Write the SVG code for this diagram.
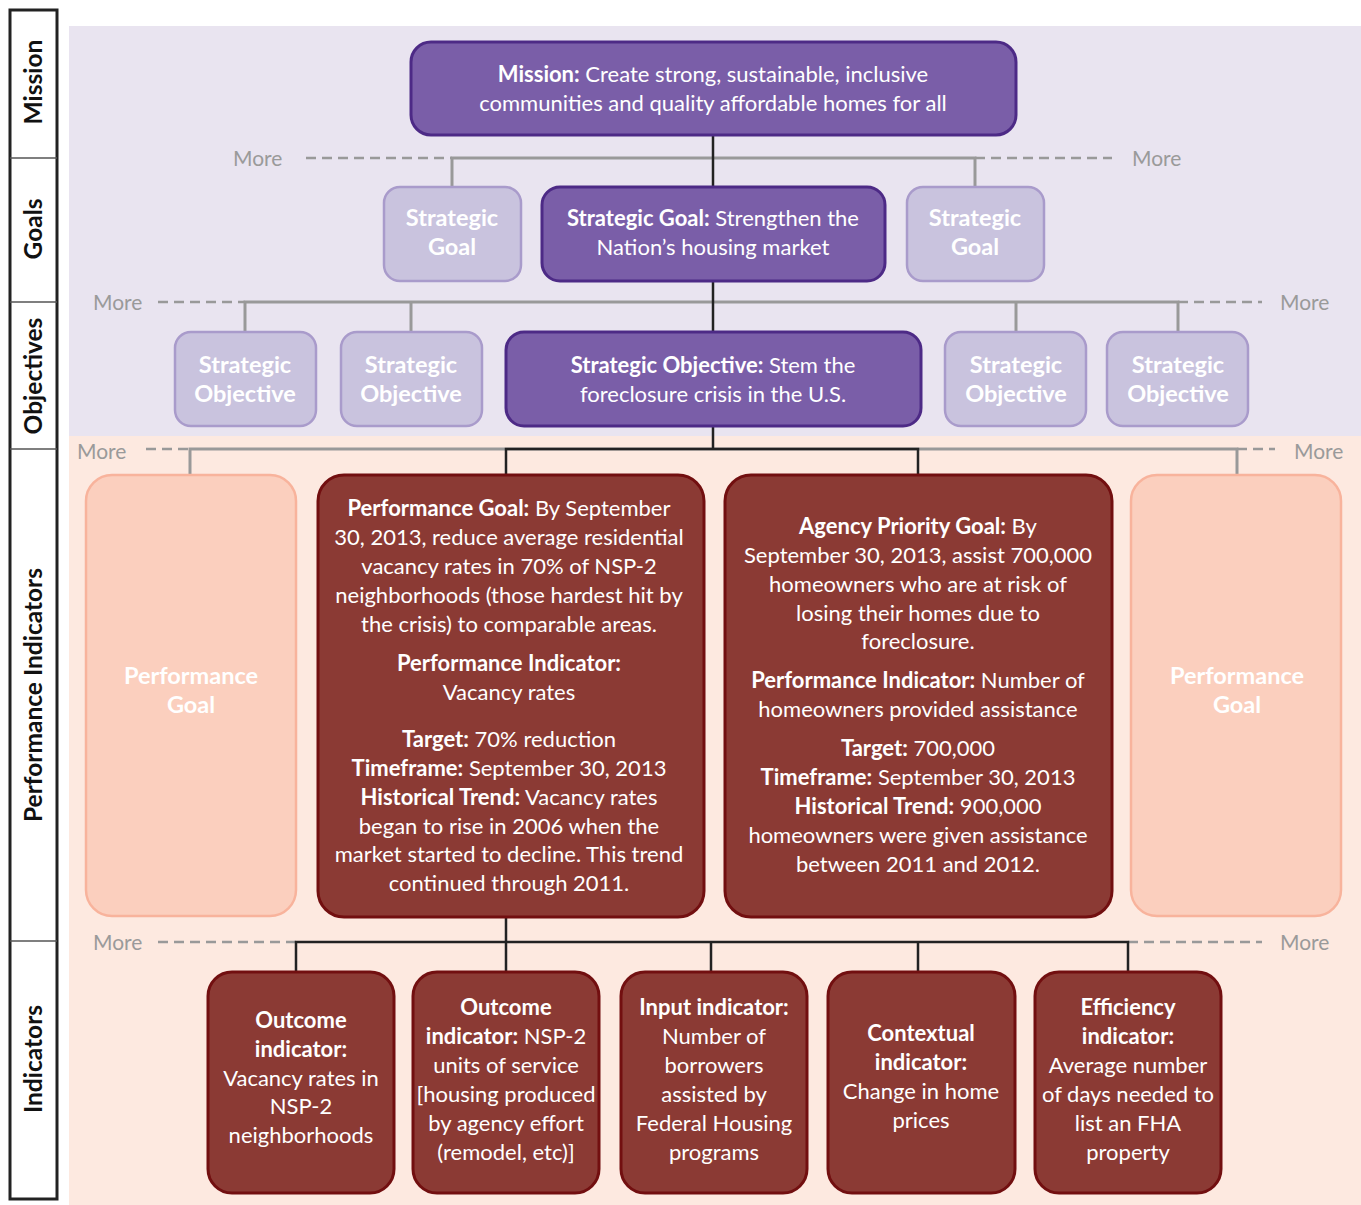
<svg xmlns="http://www.w3.org/2000/svg" width="1361" height="1205" viewBox="0 0 1361 1205">
  <style>
    text { font-family: Lato, "Liberation Sans", sans-serif; }
    .band { font-size: 24.5px; font-weight: bold; fill: #111; text-anchor: middle; }
    .more { font-size: 21px; fill: #9a9a9a; }
    .t { font-size: 22px; fill: #fff; text-anchor: middle; }
    .t.lg { font-size: 23.5px; }
    .b { font-weight: bold; }
    .dark { fill: #7a5ea8; stroke: #4d2a86; stroke-width: 3; }
    .light { fill: #c9c3de; stroke: #a99bcb; stroke-width: 2.5; }
    .red { fill: #8b3a34; stroke: #720f10; stroke-width: 3; }
    .peach { fill: #fbcfbe; stroke: #f8b39c; stroke-width: 2.5; }
    .gray { stroke: #999; stroke-width: 3; fill: none; }
    .blk { stroke: #222; stroke-width: 2.5; fill: none; }
    .dash { stroke: #999; stroke-width: 2.5; stroke-dasharray: 10 6; fill: none; }
  </style>

  <!-- background bands -->
  <rect x="69" y="26" width="1292" height="410" fill="#e9e4f0"/>
  <rect x="69" y="436" width="1292" height="769" fill="#fde9e0"/>

  <!-- level labels -->
  <g id="sidebar">
    <rect x="10" y="10" width="47" height="1189" fill="#fff" stroke="#222" stroke-width="3"/>
    <g stroke="#555" stroke-width="1.5">
      <line x1="10" y1="158" x2="57" y2="158"/>
      <line x1="10" y1="302" x2="57" y2="302"/>
      <line x1="10" y1="449" x2="57" y2="449"/>
      <line x1="10" y1="941" x2="57" y2="941"/>
    </g>
    <text class="band" transform="translate(42 82) rotate(-90)">Mission</text>
    <text class="band" transform="translate(42 229) rotate(-90)">Goals</text>
    <text class="band" transform="translate(42 376) rotate(-90)">Objectives</text>
    <text class="band" transform="translate(42 695) rotate(-90)">Performance Indicators</text>
    <text class="band" transform="translate(42 1059) rotate(-90)">Indicators</text>
  </g>

  <!-- connectors -->
  <g id="connectors">
    <!-- goals level -->
    <path class="dash" d="M306 158 H452 M975 158 H1112"/>
    <path class="gray" d="M452 187 V158 H975 V187"/>
    <path class="blk" d="M713 135 V187"/>
    <!-- objectives level -->
    <path class="dash" d="M158 302 H245 M1178 302 H1262"/>
    <path class="gray" d="M245 332 V302 H1178 V332 M411 302 V332 M1016 302 V332"/>
    <path class="blk" d="M713 281 V332"/>
    <!-- performance goal level -->
    <path class="dash" d="M146 449 H190 M1237 449 H1275"/>
    <path class="gray" d="M190 475 V449 H1237 V475"/>
    <path class="blk" d="M713 426 V449 M506 475 V449 H918 V475"/>
    <!-- indicator level -->
    <path class="dash" d="M158 942 H296 M1128 942 H1262"/>
    <path class="blk" d="M506 917 V942 M296 972 V942 H1128 V972 M506 942 V972 M711 942 V972 M918 942 V972"/>
    <text class="more" x="233" y="166">More</text>
    <text class="more" x="1132" y="166">More</text>
    <text class="more" x="93" y="310">More</text>
    <text class="more" x="1280" y="310">More</text>
    <text class="more" x="77" y="459">More</text>
    <text class="more" x="1294" y="459">More</text>
    <text class="more" x="93" y="950">More</text>
    <text class="more" x="1280" y="950">More</text>
  </g>

  <!-- mission -->
  <g id="mission">
    <rect class="dark" x="411" y="42" width="605" height="93" rx="20"/>
    <text class="t" x="713" y="82"><tspan class="b">Mission:</tspan> Create strong, sustainable, inclusive</text>
    <text class="t" x="713" y="111">communities and quality affordable homes for all</text>
  </g>

  <!-- strategic goals -->
  <g id="goal-left">
    <rect class="light" x="384" y="187" width="137" height="94" rx="16"/>
    <text class="t lg b" x="452" y="226">Strategic</text>
    <text class="t lg b" x="452" y="255">Goal</text>
  </g>
  <g id="goal-main">
    <rect class="dark" x="542" y="187" width="343" height="94" rx="18"/>
    <text class="t" x="713" y="226"><tspan class="b">Strategic Goal:</tspan> Strengthen the</text>
    <text class="t" x="713" y="255">Nation’s housing market</text>
  </g>
  <g id="goal-right">
    <rect class="light" x="907" y="187" width="137" height="94" rx="16"/>
    <text class="t lg b" x="975" y="226">Strategic</text>
    <text class="t lg b" x="975" y="255">Goal</text>
  </g>

  <!-- strategic objectives -->
  <g id="objective-1">
    <rect class="light" x="175" y="332" width="141" height="94" rx="16"/>
    <text class="t lg b" x="245" y="373">Strategic</text>
    <text class="t lg b" x="245" y="402">Objective</text>
  </g>
  <g id="objective-2">
    <rect class="light" x="341" y="332" width="141" height="94" rx="16"/>
    <text class="t lg b" x="411" y="373">Strategic</text>
    <text class="t lg b" x="411" y="402">Objective</text>
  </g>
  <g id="objective-main">
    <rect class="dark" x="506" y="332" width="415" height="94" rx="18"/>
    <text class="t" x="713" y="373"><tspan class="b">Strategic Objective:</tspan> Stem the</text>
    <text class="t" x="713" y="402">foreclosure crisis in the U.S.</text>
  </g>
  <g id="objective-4">
    <rect class="light" x="945" y="332" width="141" height="94" rx="16"/>
    <text class="t lg b" x="1016" y="373">Strategic</text>
    <text class="t lg b" x="1016" y="402">Objective</text>
  </g>
  <g id="objective-5">
    <rect class="light" x="1107" y="332" width="141" height="94" rx="16"/>
    <text class="t lg b" x="1178" y="373">Strategic</text>
    <text class="t lg b" x="1178" y="402">Objective</text>
  </g>

  <!-- performance goals -->
  <g id="perf-left">
    <rect class="peach" x="86" y="475" width="210" height="441" rx="26"/>
    <text class="t lg b" x="191" y="684">Performance</text>
    <text class="t lg b" x="191" y="713">Goal</text>
  </g>
  <g id="perf-goal">
    <rect class="red" x="318" y="475" width="386" height="442" rx="26"/>
    <text class="t" x="509" y="516"><tspan class="b">Performance Goal:</tspan> By September</text>
    <text class="t" x="509" y="545">30, 2013, reduce average residential</text>
    <text class="t" x="509" y="574">vacancy rates in 70% of NSP-2</text>
    <text class="t" x="509" y="603">neighborhoods (those hardest hit by</text>
    <text class="t" x="509" y="632">the crisis) to comparable areas.</text>
    <text class="t b" x="509" y="671">Performance Indicator:</text>
    <text class="t" x="509" y="700">Vacancy rates</text>
    <text class="t" x="509" y="747"><tspan class="b">Target:</tspan> 70% reduction</text>
    <text class="t" x="509" y="776"><tspan class="b">Timeframe:</tspan> September 30, 2013</text>
    <text class="t" x="509" y="805"><tspan class="b">Historical Trend:</tspan> Vacancy rates</text>
    <text class="t" x="509" y="834">began to rise in 2006 when the</text>
    <text class="t" x="509" y="862">market started to decline. This trend</text>
    <text class="t" x="509" y="891">continued through 2011.</text>
  </g>
  <g id="priority-goal">
    <rect class="red" x="725" y="475" width="387" height="442" rx="26"/>
    <text class="t" x="918" y="534"><tspan class="b">Agency Priority Goal:</tspan> By</text>
    <text class="t" x="918" y="563">September 30, 2013, assist 700,000</text>
    <text class="t" x="918" y="592">homeowners who are at risk of</text>
    <text class="t" x="918" y="621">losing their homes due to</text>
    <text class="t" x="918" y="649">foreclosure.</text>
    <text class="t" x="918" y="688"><tspan class="b">Performance Indicator:</tspan> Number of</text>
    <text class="t" x="918" y="717">homeowners provided assistance</text>
    <text class="t" x="918" y="756"><tspan class="b">Target:</tspan> 700,000</text>
    <text class="t" x="918" y="785"><tspan class="b">Timeframe:</tspan> September 30, 2013</text>
    <text class="t" x="918" y="814"><tspan class="b">Historical Trend:</tspan> 900,000</text>
    <text class="t" x="918" y="843">homeowners were given assistance</text>
    <text class="t" x="918" y="872">between 2011 and 2012.</text>
  </g>
  <g id="perf-right">
    <rect class="peach" x="1131" y="475" width="210" height="441" rx="26"/>
    <text class="t lg b" x="1237" y="684">Performance</text>
    <text class="t lg b" x="1237" y="713">Goal</text>
  </g>

  <!-- indicators -->
  <g id="ind-outcome-1">
    <rect class="red" x="208" y="972" width="186" height="221" rx="24"/>
    <text class="t b" x="301" y="1028">Outcome</text>
    <text class="t b" x="301" y="1057">indicator:</text>
    <text class="t" x="301" y="1086">Vacancy rates in</text>
    <text class="t" x="301" y="1114">NSP-2</text>
    <text class="t" x="301" y="1143">neighborhoods</text>
  </g>
  <g id="ind-outcome-2">
    <rect class="red" x="413" y="972" width="186" height="221" rx="24"/>
    <text class="t b" x="506" y="1015">Outcome</text>
    <text class="t" x="506" y="1044"><tspan class="b">indicator:</tspan> NSP-2</text>
    <text class="t" x="506" y="1073">units of service</text>
    <text class="t" x="506" y="1102">[housing produced</text>
    <text class="t" x="506" y="1131">by agency effort</text>
    <text class="t" x="506" y="1160">(remodel, etc)]</text>
  </g>
  <g id="ind-input">
    <rect class="red" x="621" y="972" width="186" height="221" rx="24"/>
    <text class="t b" x="714" y="1015">Input indicator:</text>
    <text class="t" x="714" y="1044">Number of</text>
    <text class="t" x="714" y="1073">borrowers</text>
    <text class="t" x="714" y="1102">assisted by</text>
    <text class="t" x="714" y="1131">Federal Housing</text>
    <text class="t" x="714" y="1160">programs</text>
  </g>
  <g id="ind-contextual">
    <rect class="red" x="828" y="972" width="187" height="221" rx="24"/>
    <text class="t b" x="921" y="1041">Contextual</text>
    <text class="t b" x="921" y="1070">indicator:</text>
    <text class="t" x="921" y="1099">Change in home</text>
    <text class="t" x="921" y="1128">prices</text>
  </g>
  <g id="ind-efficiency">
    <rect class="red" x="1035" y="972" width="186" height="221" rx="24"/>
    <text class="t b" x="1128" y="1015">Efficiency</text>
    <text class="t b" x="1128" y="1044">indicator:</text>
    <text class="t" x="1128" y="1073">Average number</text>
    <text class="t" x="1128" y="1102">of days needed to</text>
    <text class="t" x="1128" y="1131">list an FHA</text>
    <text class="t" x="1128" y="1160">property</text>
  </g>
</svg>
